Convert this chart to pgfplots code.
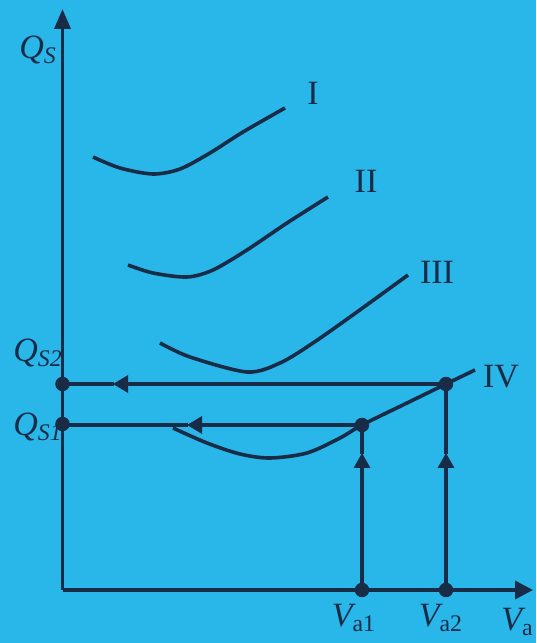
\documentclass[border=0pt]{standalone}
\usepackage{fontspec}
\setmainfont{Liberation Serif}
\usepackage{pgfplots}
\pgfplotsset{compat=1.18}
\usetikzlibrary{arrows.meta}
\definecolor{bg}{RGB}{41,182,232}
\definecolor{ink}{RGB}{24,44,72}
\tikzset{lbl/.style={text=ink, font=\fontsize{17}{20}\selectfont, inner sep=0pt}}

\begin{document}
\begin{tikzpicture}
\useasboundingbox (0,0) rectangle (268pt,321.5pt);
\clip (0,0) rectangle (268pt,321.5pt);
\fill[bg] (0,0) rectangle (268pt,321.5pt);
\begin{axis}[
  at={(0pt,0pt)}, anchor=south west,
  width=268pt, height=321.5pt, scale only axis,
  xmin=0, xmax=536, ymin=0, ymax=643,
  hide axis, clip=false,
]
% axes
\addplot[ink, line width=1.8pt, -{Triangle[length=10pt,width=8pt]}] coordinates {(62.5,53) (62.5,634)};
\addplot[ink, line width=1.8pt, -{Triangle[length=9pt,width=9pt]}] coordinates {(62.5,53) (533,53)};

% curves I-IV
\addplot[ink, line width=1.8pt, smooth] coordinates {
  (93,486) (120,475) (153,469) (180,474) (210,490) (243,511) (285,535)};
\addplot[ink, line width=1.8pt, smooth] coordinates {
  (128,378) (153,370) (187,366) (213,373) (247,393) (287,420) (328,446)};
\addplot[ink, line width=1.8pt, smooth] coordinates {
  (160,300) (190,286) (247,271) (280,280) (313,300) (357,331) (408,368)};
\addplot[ink, line width=1.8pt, smooth] coordinates {
  (173,215) (207,200) (240,189) (270,185) (307,190) (340,205) (362,218) (407,240) (446,259) (475,273)};

% Q_S2 level from V_a2
\addplot[ink, line width=1.6pt, -{Triangle[length=7.5pt,width=8.5pt]}] coordinates {(446,259) (113,259)};
\addplot[ink, line width=1.6pt] coordinates {(114,259) (62.5,259)};
\addplot[ink, line width=1.6pt, -{Triangle[length=7.5pt,width=8pt]}] coordinates {(446,53) (446,190)};
\addplot[ink, line width=1.6pt] coordinates {(446,189) (446,259)};

% Q_S1 level from V_a1
\addplot[ink, line width=1.6pt, -{Triangle[length=7.5pt,width=8.5pt]}] coordinates {(362,218) (187,218)};
\addplot[ink, line width=1.6pt] coordinates {(188,218) (62.5,218)};
\addplot[ink, line width=1.6pt, -{Triangle[length=7.5pt,width=8pt]}] coordinates {(362,53) (362,190)};
\addplot[ink, line width=1.6pt] coordinates {(362,189) (362,218)};

% points
\addplot[only marks, mark=*, mark size=3.4pt, ink] coordinates {
  (62.5,259) (62.5,219) (446,259) (362,218) (362,53) (446,53)};

% labels
\node[lbl] at (axis cs:313,550) {I};
\node[lbl] at (axis cs:366,462) {II};
\node[lbl] at (axis cs:437,371) {III};
\node[lbl] at (axis cs:501,266) {IV};
\node[lbl] at (axis cs:38,593) {\itshape Q\textsubscript{S}};
\node[lbl] at (axis cs:38,290) {\itshape Q\textsubscript{S2}};
\node[lbl] at (axis cs:38,216) {\itshape Q\textsubscript{S1}};
\node[lbl] at (axis cs:354,25) {\itshape V\textsubscript{\upshape a1}};
\node[lbl] at (axis cs:441,25) {\itshape V\textsubscript{\upshape a2}};
\node[lbl, anchor=east] at (axis cs:534,21) {\itshape V\textsubscript{\upshape a}};
\end{axis}
\end{tikzpicture}
\end{document}
